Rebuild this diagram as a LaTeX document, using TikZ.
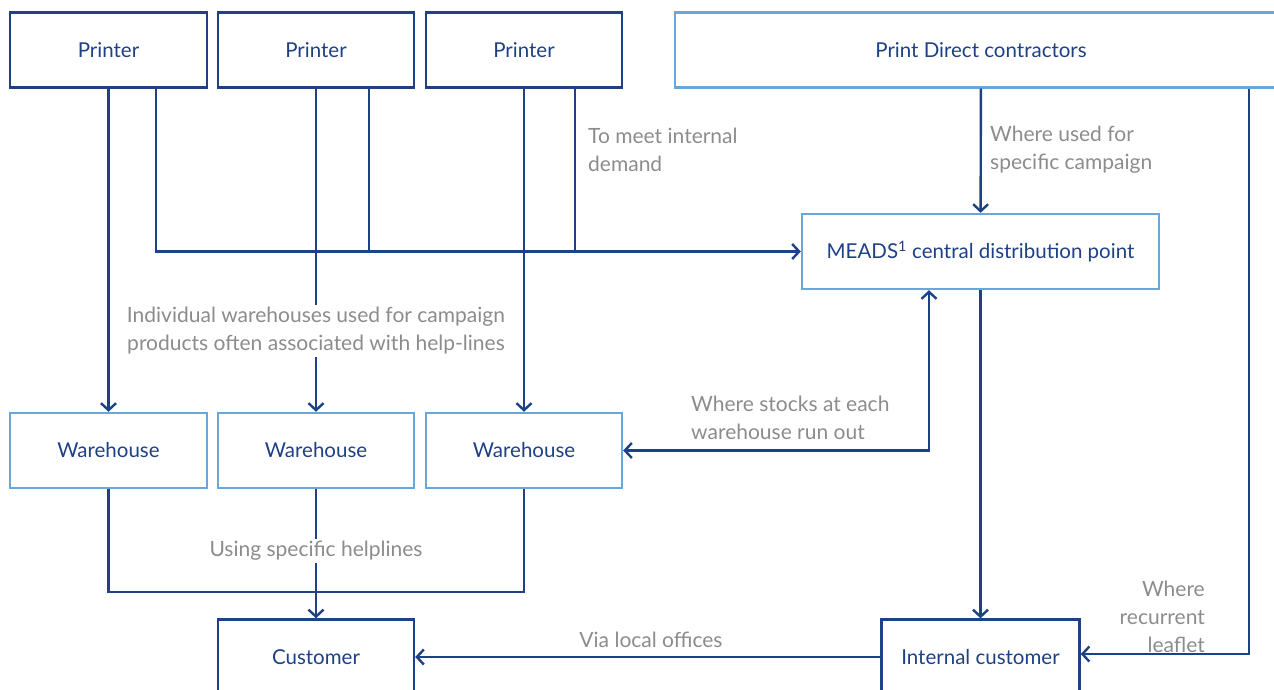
\documentclass[tikz,border=0pt]{standalone}
\usepackage{fontspec}
\setmainfont{Lato}
\usetikzlibrary{arrows.meta}
\definecolor{dblue}{RGB}{30,64,132}
\definecolor{lblue}{RGB}{104,166,220}
\definecolor{tgray}{RGB}{140,140,140}
\begin{document}
\begin{tikzpicture}[x=1pt,y=-1pt,
  box/.style={draw=dblue,line width=2.4pt,minimum height=75pt,inner sep=0pt,text=dblue,font=\fontsize{20.5}{24}\selectfont},
  lbox/.style={box,draw=lblue},
  conn/.style={draw=dblue,line width=2.4pt},
  arr/.style={conn,-{Straight Barb[length=7pt,width=15pt,line width=2.4pt]}},
  barr/.style={conn,{Straight Barb[length=7pt,width=15pt,line width=2.4pt]}-{Straight Barb[length=7pt,width=15pt,line width=2.4pt]}},
  lab/.style={text=tgray,font=\fontsize{21}{28}\selectfont,inner sep=2pt}]
\useasboundingbox (0,0) rectangle (1274,690);
% nodes
\node[box,minimum width=197pt] (P1) at (108.5,50) {Printer};
\node[box,minimum width=196pt] (P2) at (316,50) {Printer};
\node[box,minimum width=196pt] (P3) at (524,50) {Printer};
\node[lbox,minimum width=612pt] (PD) at (981,50) {Print Direct contractors};
\node[lbox,minimum width=357pt] (M) at (980.5,251.5) {MEADS\textsuperscript{1} central distribution point};
\node[lbox,minimum width=197pt] (W1) at (108.5,450.5) {Warehouse};
\node[lbox,minimum width=196pt] (W2) at (316,450.5) {Warehouse};
\node[lbox,minimum width=196pt] (W3) at (524,450.5) {Warehouse};
\node[box,minimum width=196pt] (C) at (316,657) {Customer};
\node[box,minimum width=198pt] (IC) at (980.5,657) {Internal customer};
% coordinates
\coordinate (x156) at (156,0);
\coordinate (x369) at (369,0);
\coordinate (x575) at (575,0);
\coordinate (x929) at (929,0);
\coordinate (x1249) at (1249,0);
\coordinate (jc) at (316,592);
% connectors printers
\draw[arr] (P1) -- (W1);
\draw[arr] (P2) -- (W2);
\draw[arr] (P3) -- (W3);
\draw[arr] (P1.south -| x156) |- (M.west);
\draw[conn] (P2.south -| x369) -- (x369 |- M.west);
\draw[conn] (P3.south -| x575) -- (x575 |- M.west);
% print direct
\draw[arr] (PD) -- (M);
\draw[arr] (PD.south -| x1249) |- ([yshift=3pt]IC.east);
% meads
\draw[arr] (M) -- (IC);
\draw[barr] (W3.east) -| (x929 |- M.south);
% warehouses to customer
\draw[conn] (W1.south) |- (jc) -| (W3.south);
\draw[arr] (W2) -- (C);
\draw[arr] (IC.west) -- (C.east);
% labels
\node[lab,align=left,anchor=west] (t1) at (586,150) {To meet internal\\demand};
\node[lab,align=left,anchor=west] (t2) at (988,150) {Where used for\\specific campaign};
\node[lab,align=center,fill=white] (t3) at (316,331) {Individual warehouses used for campaign\\products often associated with help-lines};
\node[lab,align=left,anchor=west] (t4) at (689,418) {Where stocks at each\\warehouse run out};
\node[lab,fill=white] (t5) at (316,551) {Using specific helplines};
\node[lab] (t6) at (651,640) {Via local offices};
\node[lab,align=right,anchor=east] (t7) at (1207,617) {Where\\recurrent\\leaflet};
\end{tikzpicture}
\end{document}
